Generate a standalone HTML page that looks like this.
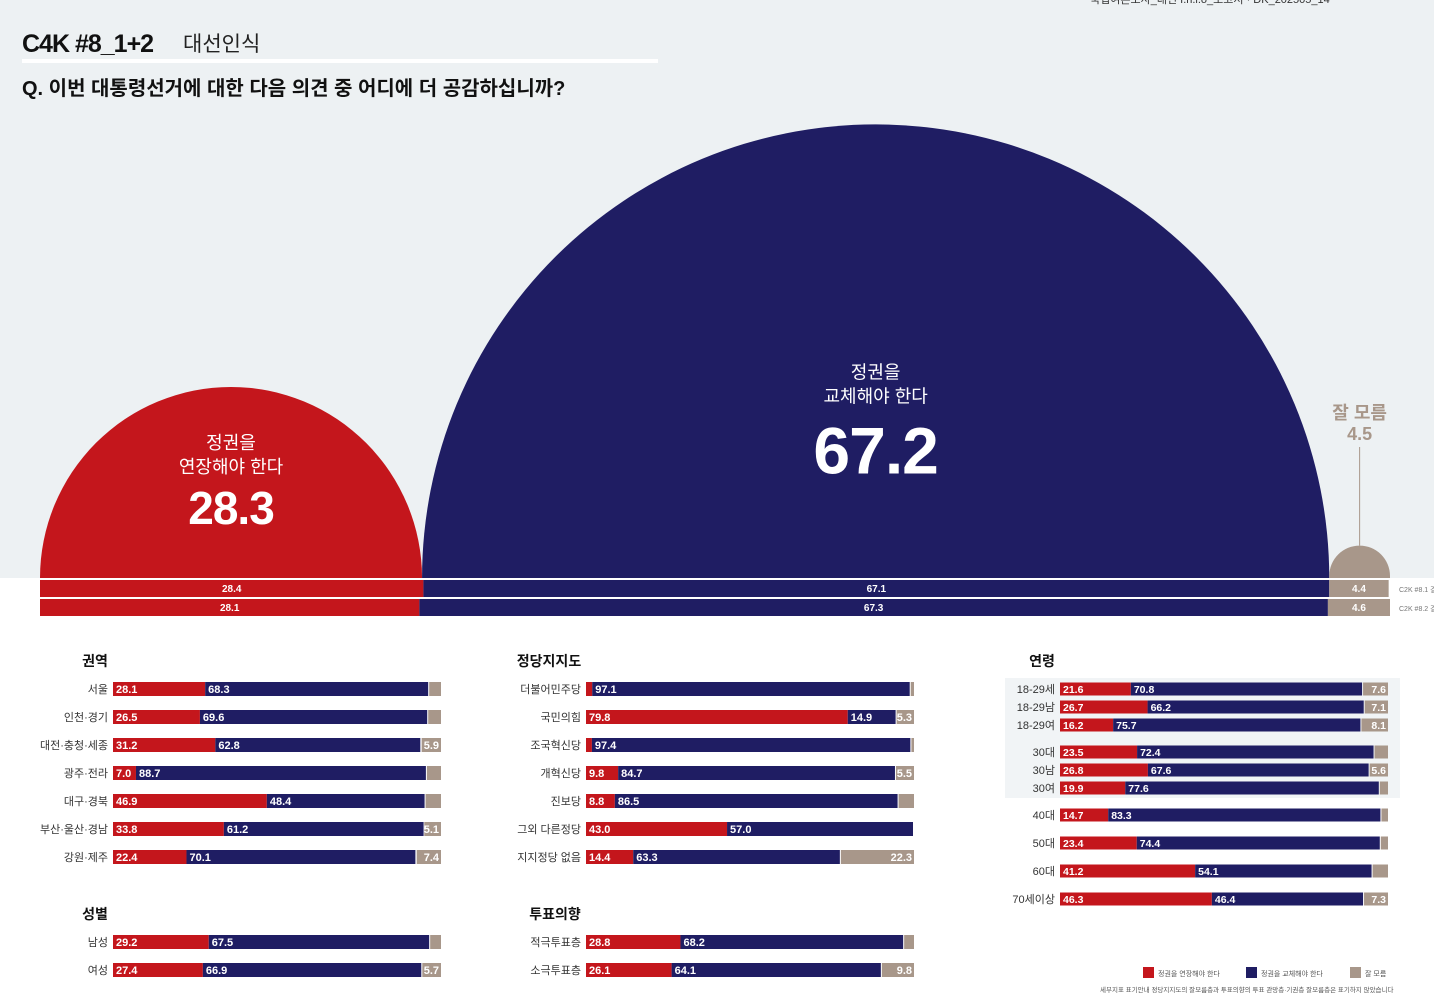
<!DOCTYPE html>
<html><head><meta charset="utf-8">
<style>
html,body{margin:0;padding:0;background:#fff;}
svg{display:block;font-family:"Liberation Sans","Noto Sans CJK KR",sans-serif;}
</style></head>
<body>
<svg id="chart" width="1434" height="995" viewBox="0 0 1434 995" xmlns="http://www.w3.org/2000/svg">
<rect x="0" y="0" width="1434" height="578" fill="#edf1f3"/>
<rect x="1005" y="678" width="395" height="120" fill="#f1f4f6"/>
<text x="22" y="52" font-size="25" font-weight="bold" fill="#111" letter-spacing="-1">C4K #8_1+2</text>
<text x="183" y="51" font-size="21" fill="#222">대선인식</text>
<rect x="22" y="59" width="636" height="4" fill="#fff"/>
<text x="22" y="95" font-size="20" font-weight="bold" fill="#111">Q. 이번 대통령선거에 대한 다음 의견 중 어디에 더 공감하십니까?</text>
<text x="1090" y="3" font-size="11" fill="#333">국립여론조사_대선 I.n.i.o_보고서 · DK_202505_14</text>
<g id="main"></g>
<g id="panels"></g>
<g id="legend"></g>
</svg>
<script>
const NS="http://www.w3.org/2000/svg";
const RED="#c4161c",NAVY="#1f1d63",TAN="#a8978a";
// main semicircle data
const mainLabels=["정권을 연장해야 한다","정권을 교체해야 한다","잘 모름"];
const mainValues=[28.3,67.2,4.5];
const wave1=[28.4,67.1,4.4];
const wave2=[28.1,67.3,4.6];
const waveNames=["C2K #8.1 결과","C2K #8.2 결과"];
// panel data
const regionCats=["서울","인천·경기","대전·충청·세종","광주·전라","대구·경북","부산·울산·경남","강원·제주"];
const regionRed=[28.1,26.5,31.2,7.0,46.9,33.8,22.4];
const regionNavy=[68.3,69.6,62.8,88.7,48.4,61.2,70.1];
const regionTan=[3.6,3.9,5.9,4.3,4.7,5.1,7.4];
const partyCats=["더불어민주당","국민의힘","조국혁신당","개혁신당","진보당","그외 다른정당","지지정당 없음"];
const partyRed=[1.9,79.8,1.8,9.8,8.8,43.0,14.4];
const partyNavy=[97.1,14.9,97.4,84.7,86.5,57.0,63.3];
const partyTan=[1.0,5.3,0.8,5.5,4.7,0,22.3];
const sexCats=["남성","여성"];
const sexRed=[29.2,27.4];
const sexNavy=[67.5,66.9];
const sexTan=[3.3,5.7];
const voteCats=["적극투표층","소극투표층"];
const voteRed=[28.8,26.1];
const voteNavy=[68.2,64.1];
const voteTan=[3.0,9.8];
const ageCats=["18-29세","18-29남","18-29여","30대","30남","30여","40대","50대","60대","70세이상"];
const ageRed=[21.6,26.7,16.2,23.5,26.8,19.9,14.7,23.4,41.2,46.3];
const ageNavy=[70.8,66.2,75.7,72.4,67.6,77.6,83.3,74.4,54.1,46.4];
const ageTan=[7.6,7.1,8.1,4.1,5.6,2.5,2.0,2.2,4.7,7.3];

function el(tag,attrs,parent,text){const e=document.createElementNS(NS,tag);for(const k in attrs)e.setAttribute(k,attrs[k]);if(text!==undefined)e.textContent=text;parent.appendChild(e);return e;}

const main=document.getElementById('main');
const X0=40,BASE=578,SCALE=13.5;
const xs=v=>v*SCALE;
const cols=[RED,NAVY,TAN];
let cx=X0;
mainValues.forEach((v,i)=>{
  const w=xs(v),r=w/2,c=cx+r;
  let shape;
  if(i<2){
    shape=el('path',{d:`M${cx} ${BASE} A${r} ${r} 0 0 1 ${cx+w} ${BASE} Z`,fill:cols[i]},main);
  } else {
    shape=el('path',{d:`M${cx} ${BASE} L${cx} ${BASE-2} A${r} ${r} 0 0 1 ${cx+w} ${BASE-2} L${cx+w} ${BASE} Z`,fill:cols[i]},main);
  }
  
  
  if(i<2){
    const top=BASE-r;
    const l1=el('text',{x:c,y:top+(i==0?62:254),'text-anchor':'middle','font-size':18,fill:'#fff'},main,'정권을');
    
    
    const l2=el('text',{x:c,y:top+(i==0?86:278),'text-anchor':'middle','font-size':18,fill:'#fff'},main,mainLabels[i].replace('정권을 ',''));
    
    
    const val=el('text',{x:c,y:top+(i==0?137:349),'text-anchor':'middle','font-size':i==0?46:66,'font-weight':'bold',fill:'#fff','letter-spacing':-1},main,v.toFixed(1));
    
    
  } else {
    const l=el('text',{x:c,y:419,'text-anchor':'middle','font-size':18,'font-weight':'bold',fill:TAN},main,mainLabels[i]);
    
    
    const vv=el('text',{x:c,y:440,'text-anchor':'middle','font-size':18,'font-weight':'bold',fill:TAN},main,v.toFixed(1));
    
    
    const ln=el('line',{x1:c,y1:447,x2:c,y2:BASE-2-r,stroke:TAN,'stroke-width':1},main);
    
    
  }
  cx+=w;
});
[wave1,wave2].forEach((arr,j)=>{
  const y=BASE+2+j*19,h=17;let x=X0;
  arr.forEach((v,i)=>{
    const w=xs(v);
    const r=el('rect',{x:x,y:y,width:w,height:h,fill:cols[i]},main);
    
    
    const t=el('text',{x:x+w/2,y:y+12,'text-anchor':'middle','font-size':10,'font-weight':'bold',fill:'#fff'},main,v.toFixed(1));
    
    
    x+=w;
  });
  const n=el('text',{x:1399,y:y+12,'font-size':7,fill:'#777'},main,waveNames[j]);
  
  
});

const panels=document.getElementById('panels');
function panel(title,tx,ty,cats,red,navy,tanArr,bx,ys,bh){
  const W=328;
  const t=el('text',{x:tx,y:ty,'text-anchor':'middle','font-size':14,'font-weight':'bold',fill:'#111'},panels,title);
  
  
  cats.forEach((c,i)=>{
    const y=ys[i]-bh/2;
    const sx=v=>v/100*W;
    const rw=sx(red[i]),nw=sx(navy[i]),tw=sx(tanArr[i]);
    const lab=el('text',{x:bx-5,y:ys[i]+4,'text-anchor':'end','font-size':11,fill:'#333'},panels,c);
    
    
    const rr=el('rect',{x:bx,y:y,width:rw,height:bh,fill:RED},panels);
    
    
    const nr=el('rect',{x:bx+rw,y:y,width:Math.max(0,nw-1),height:bh,fill:NAVY},panels);
    
    
    const tr=el('rect',{x:bx+W-tw,y:y,width:tw,height:bh,fill:TAN},panels);
    
    
    const fs=bh>=14?11:10.5;
    if(red[i]>=5){
      const v=el('text',{x:bx+3,y:ys[i]+4,'font-size':fs,'font-weight':'bold',fill:'#fff'},panels,red[i].toFixed(1));
      
      
    }
    const v2=el('text',{x:bx+rw+3,y:ys[i]+4,'font-size':fs,'font-weight':'bold',fill:'#fff'},panels,navy[i].toFixed(1));
    
    
    if(tanArr[i]>=5){
      const v3=el('text',{x:bx+W-2,y:ys[i]+4,'text-anchor':'end','font-size':fs,'font-weight':'bold',fill:'#fff'},panels,tanArr[i].toFixed(1));
      
      
    }
  });
}
const rowsA=[689,717,745,773,801,829,857];
panel("권역",95,666,regionCats,regionRed,regionNavy,regionTan,113,rowsA,14);
panel("정당지지도",549,666,partyCats,partyRed,partyNavy,partyTan,586,rowsA,14);
panel("성별",95,919,sexCats,sexRed,sexNavy,sexTan,113,[942,970],14);
panel("투표의향",555,919,voteCats,voteRed,voteNavy,voteTan,586,[942,970],14);
panel("연령",1042,666,ageCats,ageRed,ageNavy,ageTan,1060,[689,707,725,752,770,788,815,843,871,899],13);

const lg=document.getElementById('legend');
const legNames=["정권을 연장해야 한다","정권을 교체해야 한다","잘 모름"];
const legX=[1143,1246,1350];
legNames.forEach((n,i)=>{
  const r=el('rect',{x:legX[i],y:967,width:11,height:11,fill:cols[i]},lg);
  
  
  const t=el('text',{x:legX[i]+15,y:976,'font-size':7,fill:'#555'},lg,n);
  
  
});
const fn=el('text',{x:1100,y:992,'font-size':6.5,fill:'#555'},lg,"세부지표 표기안내 정당지지도의 잘모름층과 투표의향의 투표 관망층·기권층 잘모름층은 표기하지 않았습니다");


</script>
</body></html>
